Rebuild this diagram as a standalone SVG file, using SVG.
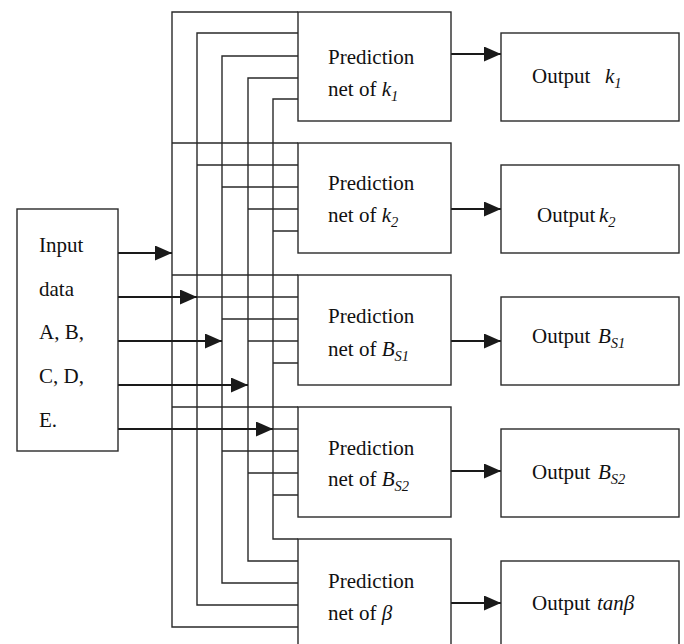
<svg xmlns="http://www.w3.org/2000/svg" width="684" height="644" viewBox="0 0 684 644">
<style>
.box{fill:#fff;stroke:#2a2a2a;stroke-width:1.4}
.bus{fill:none;stroke:#2a2a2a;stroke-width:1.4}
.arr{fill:none;stroke:#1a1a1a;stroke-width:2.2;marker-end:url(#ah)}
.t{font-family:'Liberation Serif','Times New Roman',Times,'DejaVu Serif',serif;font-size:21px;fill:#111}
.it{font-style:italic}
.sub{font-style:italic;font-size:14.5px}
</style>
<defs>
<marker id="ah" markerUnits="userSpaceOnUse" markerWidth="17" markerHeight="15" refX="17" refY="7.5" orient="auto">
<path d="M0,0 L17,7.5 L0,15 z" fill="#1a1a1a"/>
</marker>
</defs>
<g id="connectors">
<path class="bus" d="M298,12 H172 V627 H298 M172,143 H298 M172,275 H298 M172,407 H298"/>
<path class="bus" d="M298,33 H197 V605 H298 M197,165 H298 M197,297 H298 M197,429 H298"/>
<path class="bus" d="M298,56 H222 V583 H298 M222,187 H298 M222,319 H298 M222,451 H298"/>
<path class="bus" d="M298,78 H248 V561 H298 M248,209 H298 M248,341 H298 M248,473 H298"/>
<path class="bus" d="M298,99 H273 V539 H298 M273,231 H298 M273,363 H298 M273,495 H298"/>
<line class="arr" x1="118" y1="253" x2="172" y2="253"/>
<line class="arr" x1="118" y1="297" x2="197" y2="297"/>
<line class="arr" x1="118" y1="341" x2="222" y2="341"/>
<line class="arr" x1="118" y1="385" x2="248" y2="385"/>
<line class="arr" x1="118" y1="429" x2="273" y2="429"/>
<line class="arr" x1="451" y1="54" x2="501" y2="54"/>
<line class="arr" x1="451" y1="209" x2="501" y2="209"/>
<line class="arr" x1="451" y1="341" x2="501" y2="341"/>
<line class="arr" x1="451" y1="471" x2="501" y2="471"/>
<line class="arr" x1="451" y1="603" x2="501" y2="603"/>
</g>
<g id="input">
<rect class="box" x="17" y="209" width="101" height="242"/>
<text class="t" x="39" y="252">Input</text>
<text class="t" x="39" y="296">data</text>
<text class="t" x="39" y="339">A, B,</text>
<text class="t" x="39" y="383">C, D,</text>
<text class="t" x="39" y="427">E.</text>
</g>
<g id="pred-k1">
<rect class="box" x="298" y="12" width="153" height="109"/>
<text class="t" x="328" y="64">Prediction</text>
<text class="t" x="328" y="96">net of <tspan class="it">k</tspan><tspan class="sub" dy="5">1</tspan></text>
</g>
<g id="pred-k2">
<rect class="box" x="298" y="143" width="153" height="110"/>
<text class="t" x="328" y="190">Prediction</text>
<text class="t" x="328" y="222">net of <tspan class="it">k</tspan><tspan class="sub" dy="5">2</tspan></text>
</g>
<g id="pred-bs1">
<rect class="box" x="298" y="275" width="153" height="110"/>
<text class="t" x="328" y="323">Prediction</text>
<text class="t" x="328" y="356">net of <tspan class="it">B</tspan><tspan class="sub" dy="5">S1</tspan></text>
</g>
<g id="pred-bs2">
<rect class="box" x="298" y="407" width="153" height="110"/>
<text class="t" x="328" y="455">Prediction</text>
<text class="t" x="328" y="486">net of <tspan class="it">B</tspan><tspan class="sub" dy="5">S2</tspan></text>
</g>
<g id="pred-beta">
<rect class="box" x="298" y="539" width="153" height="120"/>
<text class="t" x="328" y="588">Prediction</text>
<text class="t" x="328" y="620">net of <tspan class="it">β</tspan></text>
</g>
<g id="out-k1">
<rect class="box" x="501" y="33" width="178" height="88"/>
<text class="t" x="532" y="83">Output</text>
<text class="t" x="605" y="83"><tspan class="it">k</tspan><tspan class="sub" dy="5">1</tspan></text>
</g>
<g id="out-k2">
<rect class="box" x="501" y="165" width="178" height="88"/>
<text class="t" x="537" y="222">Output</text>
<text class="t" x="599" y="222"><tspan class="it">k</tspan><tspan class="sub" dy="5">2</tspan></text>
</g>
<g id="out-bs1">
<rect class="box" x="501" y="297" width="178" height="88"/>
<text class="t" x="532" y="343">Output</text>
<text class="t" x="598" y="343"><tspan class="it">B</tspan><tspan class="sub" dy="5">S1</tspan></text>
</g>
<g id="out-bs2">
<rect class="box" x="501" y="429" width="178" height="88"/>
<text class="t" x="532" y="479">Output</text>
<text class="t" x="598" y="479"><tspan class="it">B</tspan><tspan class="sub" dy="5">S2</tspan></text>
</g>
<g id="out-tanb">
<rect class="box" x="501" y="561" width="178" height="100"/>
<text class="t" x="532" y="610">Output</text>
<text class="t it" x="597" y="610">tanβ</text>
</g>
</svg>
